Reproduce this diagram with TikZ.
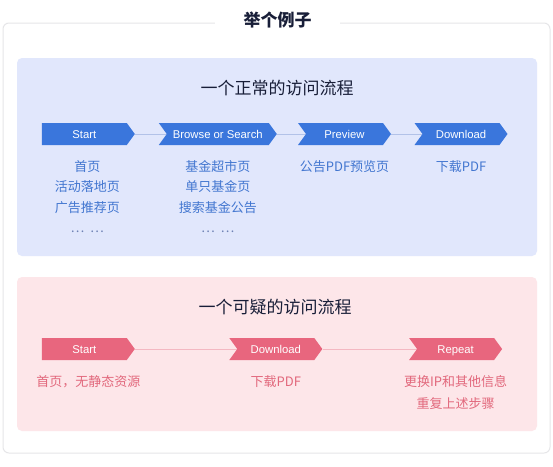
\documentclass[tikz,border=0pt]{standalone}
\usepackage{fontspec}
\setmainfont{Noto Sans CJK SC}
\newfontfamily\latinsans{Liberation Sans}
\usetikzlibrary{positioning, calc, shapes.symbols, backgrounds}
\definecolor{frameGray}{RGB}{230,230,232}
\definecolor{titleNavy}{RGB}{24,30,56}
\definecolor{blueBg}{RGB}{225,231,252}
\definecolor{blueFill}{RGB}{58,118,220}
\definecolor{blueLine}{RGB}{178,194,232}
\definecolor{blueText}{RGB}{66,118,208}
\definecolor{blueDots}{RGB}{110,130,180}
\definecolor{pinkBg}{RGB}{253,230,233}
\definecolor{pinkFill}{RGB}{232,102,126}
\definecolor{pinkLine}{RGB}{244,184,194}
\definecolor{pinkText}{RGB}{226,104,124}

\begin{document}
\begin{tikzpicture}[
        x=1pt, y=-1pt,
        pageTitle/.style={fill=white, minimum width=125pt, inner ysep=3pt,
                          font=\fontsize{17}{20}\selectfont\bfseries, text=titleNavy},
        panelTitle/.style={font=\fontsize{17}{20}\selectfont, text=titleNavy},
        flowStep/.style={signal, signal to=east, signal pointer angle=108,
                         minimum height=22pt, minimum width=93pt, inner sep=0pt,
                         text height=8pt, text depth=0pt,
                         text=white, font=\latinsans\fontsize{11.3}{13}\selectfont},
        blueStep/.style={flowStep, fill=blueFill},
        pinkStep/.style={flowStep, fill=pinkFill},
        blueLink/.style={-, line width=1pt, blueLine},
        pinkLink/.style={-, line width=1pt, pinkLine},
        blueNote/.style={align=center, inner sep=0pt, text=blueText,
                         font=\fontsize{13}{20.5}\selectfont},
        pinkNote/.style={align=center, inner sep=0pt, text=pinkText,
                         font=\fontsize{13}{22}\selectfont},
    ]
    \useasboundingbox (0,0) rectangle (553,466);

    % ===== outer frame with title =====
    \draw[frameGray, line width=1pt, rounded corners=6pt] (3,23) rectangle (550,453);
    \node[pageTitle] (title) at (277.5,20) {举个例子};

    % ===== panels =====
    \begin{scope}[on background layer]
        \fill[white] (0,0) rectangle (553,466);
        \fill[blueBg, rounded corners=5pt] (17,58) rectangle (537,256);
        \fill[pinkBg, rounded corners=5pt] (17,277) rectangle (537,431);
    \end{scope}

    % ===== normal flow =====
    \node[panelTitle] (normalTitle) at (277,88) {一个正常的访问流程};

    \node[blueStep, anchor=west] (B1) at (41.6,134) {Start};
    \node[blueStep, signal from=west, minimum width=118pt] (B2) at (217.8,134) {Browse or Search};
    \node[blueStep, signal from=west] (B3) at (344.5,134) {Preview};
    \node[blueStep, signal from=west] (B4) at (461,134) {Download};

    \node[blueNote, below=15pt of B1, xshift=3pt] (BN1)
        {首页\\活动落地页\\广告推荐页\\\textcolor{blueDots}{…\ \ …}};
    \node[blueNote, below=15pt of B2] (BN2)
        {基金超市页\\单只基金页\\搜索基金公告\\\textcolor{blueDots}{…\ \ …}};
    \node[blueNote, below=15pt of B3] (BN3) {公告PDF预览页};
    \node[blueNote, below=15pt of B4] (BN4) {下载PDF};

    % ===== suspicious flow =====
    \node[panelTitle] (suspectTitle) at (275,307) {一个可疑的访问流程};

    \node[pinkStep, anchor=west] (P1) at (41.6,349) {Start};
    \node[pinkStep, signal from=west] (P2) at (275.8,349) {Download};
    \node[pinkStep, signal from=west] (P3) at (455.6,349) {Repeat};

    \node[pinkNote, below=15pt of P1, xshift=4pt] (PN1) {首页，无静态资源};
    \node[pinkNote, below=15pt of P2] (PN2) {下载PDF};
    \node[pinkNote, below=15pt of P3] (PN3) {更换IP和其他信息\\重复上述步骤};

    % links behind the arrows
    \begin{scope}[on background layer]
        \foreach \a/\b in {B1/B2, B2/B3, B3/B4} { \draw[blueLink] (\a.east) -- (\b.west); }
        \foreach \a/\b in {P1/P2, P2/P3} { \draw[pinkLink] (\a.east) -- (\b.west); }
    \end{scope}
\end{tikzpicture}
\end{document}
